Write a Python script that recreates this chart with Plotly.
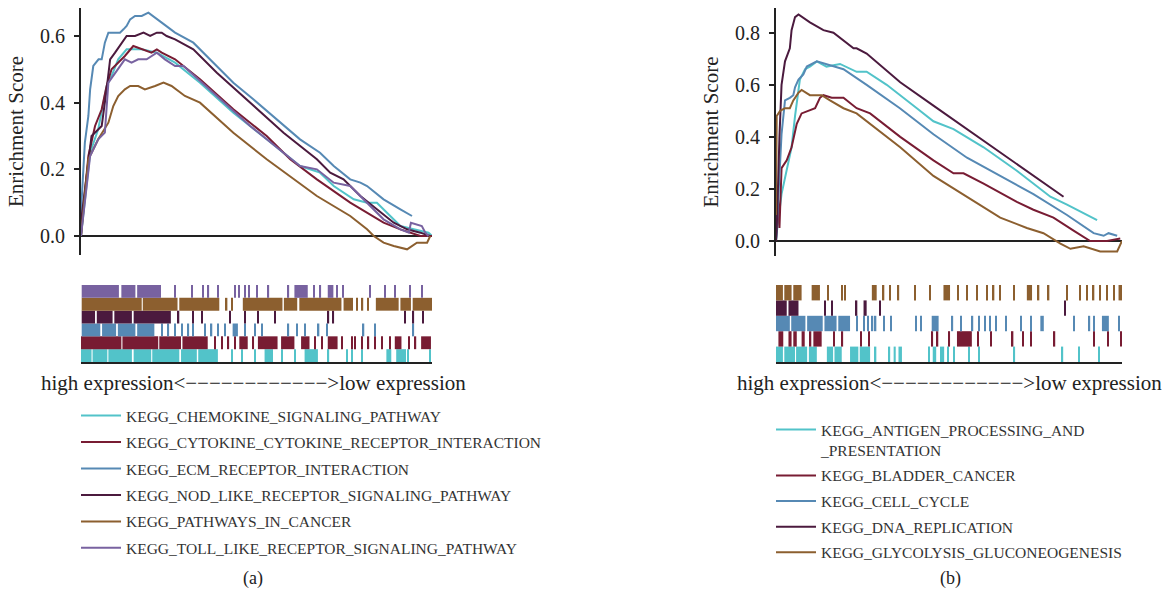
import plotly.graph_objects as go

FONT = "Liberation Serif"

# ---------------- Panel (a) data ----------------
names_a = [
    "KEGG_CHEMOKINE_SIGNALING_PATHWAY",
    "KEGG_CYTOKINE_CYTOKINE_RECEPTOR_INTERACTION",
    "KEGG_ECM_RECEPTOR_INTERACTION",
    "KEGG_NOD_LIKE_RECEPTOR_SIGNALING_PATHWAY",
    "KEGG_PATHWAYS_IN_CANCER",
    "KEGG_TOLL_LIKE_RECEPTOR_SIGNALING_PATHWAY",
]
colors_a = ["#52c3c9", "#781c33", "#5689b4", "#4b1a3e", "#8c5f2f", "#7862a0"]

chemokine_x = [0, 0.2, 2.6, 4.9, 7.3, 8.7, 10.6, 13.0, 17.3, 21.6, 26.8, 33.9, 43.4, 52.9, 62.4, 68.1, 72.0, 77.7, 81.5, 84.3, 88.0, 91.0, 94.8, 99.0, 100]
chemokine_y = [0, 0.02, 0.25, 0.32, 0.45, 0.48, 0.53, 0.56, 0.56, 0.55, 0.52, 0.46, 0.37, 0.29, 0.21, 0.19, 0.15, 0.11, 0.10, 0.10, 0.06, 0.03, 0.02, 0.01, 0.0]

cytokine_x = [0, 0.2, 2.1, 4.0, 5.9, 7.3, 8.7, 10.6, 12.5, 14.9, 17.3, 20.1, 21.6, 23.0, 26.8, 33.9, 43.4, 52.9, 59.6, 67.2, 76.7, 81.5, 86.2, 91.0, 93.8, 96.7, 99.0, 100]
cytokine_y = [0, 0.03, 0.24, 0.33, 0.38, 0.45, 0.50, 0.52, 0.54, 0.57, 0.56, 0.55, 0.56, 0.55, 0.53, 0.47, 0.38, 0.30, 0.23, 0.17, 0.10, 0.07, 0.04, 0.02, 0.01, 0.0, 0.0, 0.0]

ecm_x = [0, 0.2, 1.1, 2.1, 2.6, 3.5, 5.0, 5.9, 6.8, 7.8, 9.2, 11.1, 12.1, 13.0, 14.0, 15.4, 17.3, 19.2, 23.0, 26.8, 32.0, 38.7, 43.4, 49.1, 55.8, 62.4, 68.1, 72.0, 76.7, 79.6, 81.5, 86.2, 91.0, 94.3]
ecm_y = [0, 0.11, 0.28, 0.36, 0.44, 0.51, 0.53, 0.53, 0.58, 0.61, 0.61, 0.61, 0.62, 0.63, 0.65, 0.66, 0.66, 0.67, 0.64, 0.61, 0.58, 0.51, 0.46, 0.41, 0.35, 0.29, 0.25, 0.21, 0.17, 0.16, 0.15, 0.11, 0.08, 0.06]

nod_x = [0, 0.2, 3.0, 4.9, 5.9, 7.3, 8.3, 9.7, 11.6, 13.0, 15.4, 17.8, 19.7, 21.6, 23.0, 24.4, 26.8, 32.0, 38.7, 48.2, 57.7, 67.2, 71.0, 74.8, 79.6, 84.3, 89.1, 92.9, 96.7, 99.5]
nod_y = [0, 0.06, 0.30, 0.32, 0.33, 0.44, 0.53, 0.55, 0.58, 0.60, 0.60, 0.61, 0.60, 0.61, 0.61, 0.60, 0.59, 0.56, 0.49, 0.40, 0.31, 0.23, 0.19, 0.17, 0.12, 0.08, 0.04, 0.02, 0.01, 0.0]

pathways_x = [0, 0.2, 2.1, 4.9, 7.8, 9.2, 10.6, 12.5, 14.0, 16.3, 18.2, 21.1, 23.5, 25.8, 29.6, 33.9, 43.4, 52.9, 60.6, 67.2, 76.7, 81.5, 83.4, 86.2, 89.1, 92.9, 95.7, 98.6, 99.5]
pathways_y = [0, 0.02, 0.23, 0.29, 0.34, 0.39, 0.42, 0.44, 0.45, 0.45, 0.44, 0.45, 0.46, 0.45, 0.42, 0.40, 0.31, 0.23, 0.17, 0.12, 0.06, 0.02, 0.0, -0.02, -0.03, -0.04, -0.02, -0.02, 0.0]

toll_x = [0, 0.2, 2.6, 4.9, 6.8, 7.8, 9.2, 10.6, 12.5, 14.4, 16.3, 18.7, 21.6, 23.9, 26.8, 29.2, 38.7, 48.2, 57.7, 62.4, 67.2, 72.0, 76.7, 81.5, 86.2, 91.0, 93.4, 94.0, 97.1, 98.1, 99.0]
toll_y = [0, 0.02, 0.24, 0.29, 0.31, 0.46, 0.48, 0.50, 0.53, 0.52, 0.53, 0.53, 0.55, 0.53, 0.51, 0.51, 0.42, 0.33, 0.25, 0.21, 0.20, 0.16, 0.15, 0.10, 0.05, 0.02, 0.01, 0.04, 0.03, 0.01, 0.0]

curves_a = [(chemokine_x, chemokine_y), (cytokine_x, cytokine_y), (ecm_x, ecm_y),
            (nod_x, nod_y), (pathways_x, pathways_y), (toll_x, toll_y)]

# barcode hit segments [start, end] (rank position, % of list)
hits_chemokine = [[0, 3.0], [3.3, 7.5], [7.8, 14.5], [15.0, 20.0], [20.3, 28.0], [28.5, 33.0], [33.4, 39.0], [42.8, 43.2], [45.6, 46.0], [49.4, 49.8], [52.3, 54.7], [57.0, 57.4], [60.8, 61.2], [63.7, 67.5], [70.3, 70.7], [75.6, 76.0], [77.0, 77.4], [79.9, 80.3], [87.0, 88.4], [89.8, 92.6], [93.0, 93.4], [99.3, 99.7]]
hits_cytokine = [[0, 11.5], [11.8, 22.0], [22.3, 28.5], [28.9, 36.1], [38.0, 38.4], [39.9, 40.3], [41.8, 42.2], [43.7, 44.1], [45.1, 47.5], [48.9, 49.3], [50.4, 56.0], [57.0, 60.8], [62.7, 65.1], [66.5, 66.9], [68.4, 68.8], [70.3, 73.1], [74.1, 74.5], [77.0, 77.4], [77.9, 78.3], [79.8, 80.2], [81.7, 82.1], [83.6, 84.0], [85.6, 86.0], [87.9, 88.3], [89.4, 91.3], [93.2, 93.6], [95.1, 95.5], [96.9, 99.7]]
hits_ecm = [[0.2, 5.5], [6.0, 10.0], [10.5, 15.5], [16.0, 20.9], [22.8, 23.2], [24.7, 25.1], [26.6, 27.0], [28.5, 28.9], [30.4, 30.8], [31.8, 32.2], [35.1, 35.5], [37.0, 37.4], [38.9, 39.3], [40.8, 41.2], [43.2, 44.7], [46.5, 46.9], [49.4, 49.8], [51.3, 51.7], [58.9, 59.3], [61.3, 61.7], [63.7, 64.1], [67.5, 67.9], [69.9, 70.3], [80.3, 80.7], [83.6, 84.0], [94.5, 94.9]]
hits_nod = [[0.2, 4.0], [4.5, 9.0], [9.5, 14.5], [15.0, 25.6], [27.6, 28.0], [31.8, 32.2], [34.2, 34.6], [42.2, 42.6], [46.5, 46.9], [50.3, 50.7], [55.0, 55.4], [70.3, 70.7], [71.7, 72.1], [92.2, 92.6], [94.5, 94.9], [97.3, 97.7]]
hits_pathways = [[0.2, 17.3], [17.6, 27.5], [28.0, 39.4], [41.3, 41.7], [42.8, 43.2], [46.1, 57.4], [57.8, 61.6], [62.2, 74.2], [74.8, 77.5], [78.5, 78.9], [80.0, 80.4], [81.5, 81.9], [84.0, 90.5], [91.0, 94.0], [94.5, 100]]
hits_toll = [[0.2, 10.8], [11.5, 15.5], [16.0, 22.8], [26.6, 27.0], [31.4, 31.8], [34.6, 35.0], [36.1, 36.5], [38.9, 39.3], [43.7, 44.1], [44.8, 45.3], [46.5, 47.0], [47.6, 48.1], [49.9, 50.3], [53.2, 53.6], [58.9, 59.3], [60.8, 64.6], [66.1, 66.5], [68.0, 68.4], [70.3, 71.9], [72.7, 73.1], [74.4, 74.8], [82.2, 82.6], [86.5, 86.9], [89.3, 89.7], [93.6, 94.0], [96.9, 97.3]]
hits_a = [hits_chemokine, hits_cytokine, hits_ecm, hits_nod, hits_pathways, hits_toll]

# ---------------- Panel (b) data ----------------
names_b = [
    "KEGG_ANTIGEN_PROCESSING_AND<br>_PRESENTATION",
    "KEGG_BLADDER_CANCER",
    "KEGG_CELL_CYCLE",
    "KEGG_DNA_REPLICATION",
    "KEGG_GLYCOLYSIS_GLUCONEOGENESIS",
]
colors_b = ["#52c3c9", "#781c33", "#5689b4", "#4b1a3e", "#8c5f2f"]

antigen_x = [0, 0.2, 1.6, 3.1, 4.5, 5.5, 6.9, 8.4, 9.8, 11.8, 14.6, 18.5, 21.4, 23.3, 26.2, 32.0, 40.7, 45.5, 51.3, 60.0, 69.6, 79.3, 84.1, 92.8]
antigen_y = [0, 0.03, 0.18, 0.27, 0.36, 0.48, 0.62, 0.66, 0.67, 0.69, 0.67, 0.68, 0.66, 0.65, 0.65, 0.60, 0.51, 0.46, 0.43, 0.36, 0.27, 0.17, 0.14, 0.08]

bladder_x = [0, 0.5, 1.0, 1.6, 3.1, 4.5, 6.0, 7.4, 9.3, 11.3, 12.7, 13.7, 16.1, 17.5, 19.5, 23.3, 27.2, 35.9, 45.5, 51.3, 54.2, 60.0, 69.6, 74.4, 80.2, 86.0, 90.8, 95.7, 99.5]
bladder_y = [0.0, 0.18, 0.05, 0.28, 0.31, 0.36, 0.45, 0.49, 0.50, 0.51, 0.55, 0.56, 0.55, 0.55, 0.55, 0.51, 0.49, 0.40, 0.31, 0.26, 0.26, 0.22, 0.15, 0.12, 0.09, 0.04, 0.0, 0.0, 0.01]

cellcycle_x = [0, 0.2, 1.6, 2.6, 4.0, 5.0, 5.5, 6.5, 7.9, 8.9, 11.8, 14.6, 19.5, 26.2, 35.8, 45.5, 55.2, 64.8, 74.4, 84.1, 91.8, 94.7, 96.1, 98.6]
cellcycle_y = [0, 0.04, 0.41, 0.54, 0.55, 0.56, 0.59, 0.62, 0.64, 0.67, 0.69, 0.68, 0.66, 0.60, 0.51, 0.41, 0.32, 0.25, 0.18, 0.10, 0.03, 0.02, 0.03, 0.02]

dna_x = [0, 0.2, 1.0, 1.6, 2.6, 3.6, 4.0, 4.5, 5.5, 6.5, 9.8, 13.7, 16.6, 22.4, 23.3, 26.2, 35.9, 45.5, 55.2, 64.8, 74.4, 83.1]
dna_y = [0, 0.04, 0.40, 0.60, 0.69, 0.73, 0.74, 0.81, 0.86, 0.87, 0.84, 0.81, 0.80, 0.74, 0.74, 0.72, 0.61, 0.52, 0.43, 0.34, 0.25, 0.17]

glyco_x = [0, 0.2, 1.2, 2.6, 4.0, 5.0, 6.5, 7.4, 9.8, 11.8, 13.2, 15.6, 19.5, 23.3, 28.2, 35.9, 45.5, 55.2, 64.8, 72.5, 77.3, 82.2, 85.1, 88.9, 93.7, 98.6, 100]
glyco_y = [0.1, 0.48, 0.50, 0.51, 0.51, 0.54, 0.57, 0.58, 0.56, 0.56, 0.56, 0.54, 0.51, 0.49, 0.44, 0.36, 0.25, 0.17, 0.09, 0.05, 0.03, -0.01, -0.03, -0.02, -0.04, -0.04, 0.0]

curves_b = [(antigen_x, antigen_y), (bladder_x, bladder_y), (cellcycle_x, cellcycle_y),
            (dna_x, dna_y), (glyco_x, glyco_y)]

hits_antigen = [[0, 2.0], [2.4, 5.5], [5.8, 9.0], [9.5, 11.8], [14.7, 16.5], [16.9, 19.0], [21.4, 23.8], [24.2, 27.2], [28.6, 29.0], [32.5, 33.0], [34.0, 34.6], [35.4, 36.4], [44.1, 44.5], [45.3, 46.3], [47.4, 48.6], [49.6, 49.9], [51.3, 51.7], [55.6, 56.0], [58.5, 58.9], [68.7, 69.1], [82.6, 83.0], [87.4, 87.8], [93.2, 93.6]]
hits_bladder = [[0.7, 2.1], [3.6, 4.5], [5.0, 6.0], [7.4, 8.3], [9.8, 10.2], [10.8, 13.2], [16.6, 17.0], [19.0, 19.4], [24.3, 24.7], [26.7, 27.1], [45.0, 45.4], [46.5, 46.9], [49.9, 50.3], [52.3, 56.6], [58.1, 58.5], [61.9, 62.3], [68.2, 68.6], [71.1, 71.5], [73.5, 73.9], [80.3, 80.7], [91.8, 92.2], [95.7, 96.1], [99.5, 99.9]]
hits_cellcycle = [[0, 4.0], [4.4, 8.5], [9.0, 13.5], [14.0, 17.5], [18.0, 21.4], [23.3, 23.7], [25.3, 25.7], [26.4, 26.8], [27.7, 28.1], [28.6, 29.0], [31.1, 31.5], [33.0, 33.4], [40.2, 40.6], [41.7, 42.1], [45.0, 47.0], [50.8, 51.2], [53.2, 53.6], [56.6, 57.0], [58.5, 58.9], [60.2, 60.6], [61.7, 62.1], [63.3, 63.7], [66.2, 66.6], [70.6, 71.0], [73.5, 73.9], [76.4, 77.4], [86.0, 86.4], [90.4, 90.8], [91.8, 92.2], [94.2, 96.2], [99.0, 99.4]]
hits_dna = [[0, 3.1], [3.6, 6.5], [14.0, 14.4], [15.9, 16.3], [23.1, 23.5], [25.3, 26.2], [29.9, 30.3], [83.4, 83.8]]
hits_glyco = [[0, 2.0], [2.4, 4.5], [5.0, 7.4], [10.3, 12.7], [14.9, 15.3], [18.8, 19.2], [19.8, 20.2], [27.7, 29.1], [30.9, 31.3], [32.8, 33.2], [35.2, 35.6], [40.0, 40.4], [44.4, 44.8], [48.4, 50.3], [52.5, 52.9], [55.0, 55.4], [57.9, 58.3], [60.7, 61.1], [62.7, 63.1], [64.6, 65.0], [68.5, 68.9], [72.5, 74.0], [75.7, 76.1], [78.6, 79.0], [83.9, 84.3], [87.7, 88.1], [89.7, 90.1], [91.6, 92.0], [93.5, 93.9], [95.5, 95.9], [97.4, 97.8], [99.0, 100]]
hits_b = [hits_antigen, hits_bladder, hits_cellcycle, hits_dna, hits_glyco]

axis_label = "high expression<" + "\u2212" * 12 + ">low expression"

fig = go.Figure()

# curves (a)
for name, col, (xs, ys) in zip(names_a, colors_a, curves_a):
    fig.add_trace(go.Scatter(x=xs, y=ys, mode="lines", name=name, legendgroup=name,
                             line=dict(color=col, width=2),
                             xaxis="x", yaxis="y", legend="legend"))
# barcodes (a)
for i, (col, segs) in enumerate(zip(colors_a, hits_a)):
    fig.add_trace(go.Bar(orientation="h",
                         y=[i + 0.5] * len(segs),
                         x=[e - s for s, e in segs],
                         base=[s for s, e in segs],
                         width=1, marker=dict(color=col, line=dict(width=0)),
                         showlegend=False, xaxis="x2", yaxis="y2"))

# curves (b)
for name, col, (xs, ys) in zip(names_b, colors_b, curves_b):
    fig.add_trace(go.Scatter(x=xs, y=ys, mode="lines", name=name, legendgroup=name,
                             line=dict(color=col, width=2),
                             xaxis="x3", yaxis="y3", legend="legend2"))
# barcodes (b)
for i, (col, segs) in enumerate(zip(colors_b, hits_b)):
    fig.add_trace(go.Bar(orientation="h",
                         y=[i + 0.5] * len(segs),
                         x=[e - s for s, e in segs],
                         base=[s for s, e in segs],
                         width=1, marker=dict(color=col, line=dict(width=0)),
                         showlegend=False, xaxis="x4", yaxis="y4"))

W, H = 1165, 592
xa_dom = [81 / W, 432 / W]
xb_dom = [776 / W, 1122 / W]
bar_dom = [1 - 362 / H, 1 - 285 / H]

tickfont = dict(family=FONT, size=20, color="#222")

def curve_yaxis(dom, rng, vals, anchor):
    return dict(domain=dom, range=rng, anchor=anchor,
                tickvals=vals, ticktext=["%.1f" % v for v in vals],
                showline=True, linecolor="#222", linewidth=2,
                ticks="outside", ticklen=5, tickwidth=1.5, tickcolor="#222",
                ticklabelstandoff=5,
                tickfont=tickfont, showgrid=False,
                zeroline=True, zerolinecolor="#222", zerolinewidth=1.5,
                title=dict(text="Enrichment Score", font=dict(family=FONT, size=21, color="#222"), standoff=11),
                automargin=False, fixedrange=True)

def hidden_x(dom, anchor, line):
    return dict(domain=dom, range=[0, 100], anchor=anchor, showgrid=False, zeroline=False,
                showticklabels=False, ticks="", showline=line, linecolor="#222", linewidth=2,
                automargin=False)

leg_font = dict(family=FONT, size=15.5, color="#333")

fig.update_layout(
    width=W, height=H,
    margin=dict(l=0, r=0, t=0, b=0),
    paper_bgcolor="white", plot_bgcolor="white",
    barmode="overlay",
    font=dict(family=FONT, color="#222"),
    xaxis=hidden_x(xa_dom, "y", False),
    yaxis=curve_yaxis([1 - 255 / H, 1 - 8 / H], [-0.057, 0.684], [0, 0.2, 0.4, 0.6], "x"),
    xaxis2=hidden_x(xa_dom, "y2", True),
    yaxis2=dict(domain=bar_dom, range=[0, 6], anchor="x2", visible=False),
    xaxis3=hidden_x(xb_dom, "y3", False),
    yaxis3=curve_yaxis([1 - 256 / H, 1 - 8 / H], [-0.0576, 0.895], [0, 0.2, 0.4, 0.6, 0.8], "x3"),
    xaxis4=hidden_x(xb_dom, "y4", True),
    yaxis4=dict(domain=bar_dom, range=[0, 5], anchor="x4", visible=False),
    legend=dict(x=76 / W, y=1 - 399 / H, xanchor="left", yanchor="top",
                font=leg_font, itemwidth=40,
                bgcolor="rgba(0,0,0,0)", traceorder="grouped", tracegroupgap=3.3),
    legend2=dict(x=771 / W, y=1 - 413 / H, xanchor="left", yanchor="top",
                 font=leg_font, valign="top", itemwidth=40,
                 bgcolor="rgba(0,0,0,0)", traceorder="grouped", tracegroupgap=2.5),
    annotations=[
        dict(text=axis_label, x=253 / W, y=1 - 383 / H, xref="paper", yref="paper",
             xanchor="center", yanchor="middle",
             showarrow=False, font=dict(family=FONT, size=21, color="#222")),
        dict(text=axis_label, x=949 / W, y=1 - 383 / H, xref="paper", yref="paper",
             xanchor="center", yanchor="middle",
             showarrow=False, font=dict(family=FONT, size=21, color="#222")),
        dict(text="(a)", x=253 / W, y=1 - 578 / H, xref="paper", yref="paper",
             xanchor="center", yanchor="middle",
             showarrow=False, font=dict(family=FONT, size=18, color="#222")),
        dict(text="(b)", x=950 / W, y=1 - 578 / H, xref="paper", yref="paper",
             xanchor="center", yanchor="middle",
             showarrow=False, font=dict(family=FONT, size=18, color="#222")),
    ],
)

fig.write_html("out.html")
